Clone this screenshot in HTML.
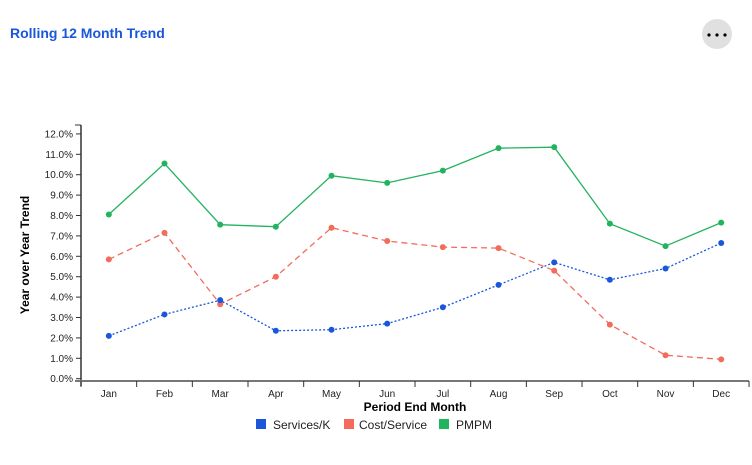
<!DOCTYPE html>
<html><head><style>
body{margin:0;background:#fff;font-family:"Liberation Sans",Arial,sans-serif;}
</style></head><body>
<svg id="s" width="752" height="460" xmlns="http://www.w3.org/2000/svg" font-family="Liberation Sans, Arial, sans-serif">
<text x="10" y="38" font-size="14" font-weight="bold" fill="#1a56db">Rolling 12 Month Trend</text>
<circle cx="717" cy="34" r="15" fill="#e0e0e0"/>
<circle cx="709" cy="35" r="1.6" fill="#000"/><circle cx="717" cy="35" r="1.6" fill="#000"/><circle cx="725" cy="35" r="1.6" fill="#000"/>
<text transform="translate(29,255) rotate(-90)" text-anchor="middle" font-size="12" font-weight="bold" fill="#000">Year over Year Trend</text>
<text x="415" y="411" text-anchor="middle" font-size="12" font-weight="bold" fill="#000">Period End Month</text>
<rect x="256" y="419" width="10" height="10" fill="#1a56db"/><text x="273" y="429" font-size="12" fill="#222">Services/K</text>
<rect x="344" y="419" width="10" height="10" fill="#f26b5b"/><text x="359" y="429" font-size="12" fill="#222">Cost/Service</text>
<rect x="439" y="419" width="10" height="10" fill="#22b35e"/><text x="456" y="429" font-size="12" fill="#222">PMPM</text>
<g id="g"></g>
</svg>
<script>
var g=document.getElementById('g'),h='';
function Y(v){return 378.7-v*20.4;}
h+='<line x1="81" y1="125" x2="81" y2="386" stroke="#333" stroke-width="1.5"/>';
h+='<line x1="75" y1="125" x2="81" y2="125" stroke="#333"/>';
h+='<line x1="75" y1="381" x2="749" y2="381" stroke="#777" stroke-width="2"/>';
for(var i=0;i<=12;i++){var y=Y(i);h+='<line x1="76" y1="'+y+'" x2="81" y2="'+y+'" stroke="#333"/><text x="73" y="'+(y+3.5)+'" text-anchor="end" font-size="10" fill="#222">'+i+'.0%</text>';}
var m=['Jan','Feb','Mar','Apr','May','Jun','Jul','Aug','Sep','Oct','Nov','Dec'],st=55.67;
for(var i=0;i<=12;i++){var x=81+i*st;h+='<line x1="'+x+'" y1="381" x2="'+x+'" y2="387" stroke="#333"/>';}
for(var i=0;i<12;i++){h+='<text x="'+(81+st*(i+0.5))+'" y="397" text-anchor="middle" font-size="10" fill="#222">'+m[i]+'</text>';}
var S=[2.1,3.15,3.85,2.35,2.4,2.7,3.5,4.6,5.7,4.85,5.4,6.65],C=[5.85,7.15,3.65,5.0,7.4,6.75,6.45,6.4,5.3,2.65,1.15,0.95],P=[8.05,10.55,7.55,7.45,9.95,9.6,10.2,11.3,11.35,7.6,6.5,7.65];
function ser(d,c,da){var p=d.map(function(v,i){return (81+st*(i+0.5)).toFixed(1)+','+Y(v).toFixed(1)}).join(' ');
h+='<polyline points="'+p+'" fill="none" stroke="'+c+'" stroke-width="1.3" '+(da?'stroke-dasharray="'+da+'"':'')+'/>';
d.forEach(function(v,i){h+='<circle cx="'+(81+st*(i+0.5))+'" cy="'+Y(v)+'" r="3" fill="'+c+'"/>';});}
ser(P,'#22b35e');ser(C,'#f26b5b','6,4');ser(S,'#1a56db','2,2');
g.innerHTML=h;
</script>
</body></html>
